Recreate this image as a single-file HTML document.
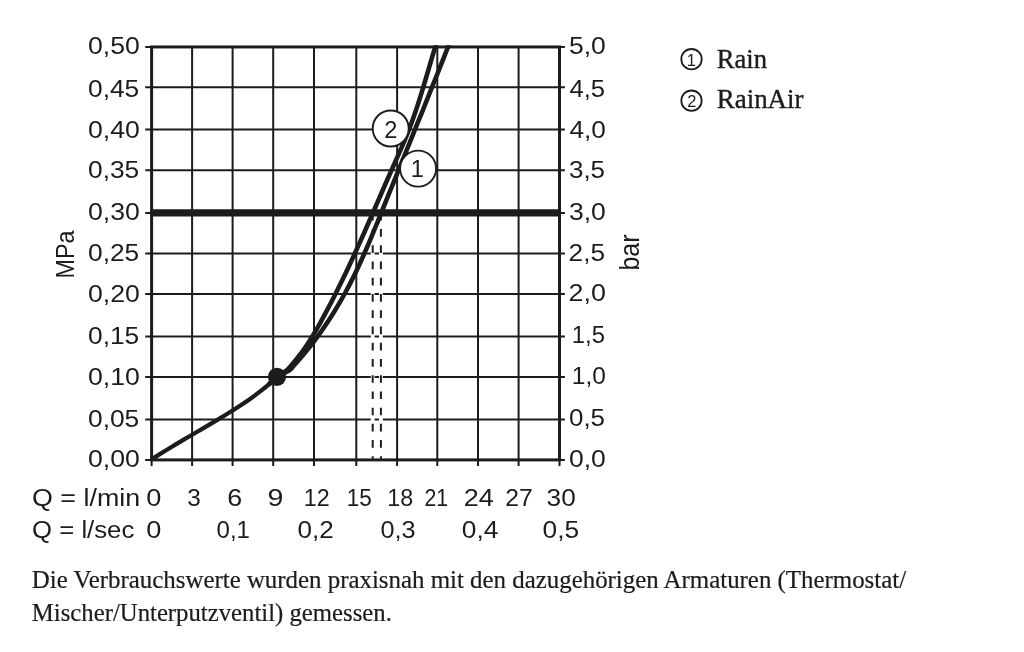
<!DOCTYPE html>
<html lang="de"><head><meta charset="utf-8"><title>Durchflussdiagramm</title>
<style>
html,body{margin:0;padding:0;background:#fff;}
body{width:1024px;height:652px;overflow:hidden;position:relative;}
svg{position:absolute;left:0;top:0;display:block;}
.sans text{font-family:"Liberation Sans", sans-serif;fill:#1c1c1c;}
.serif text{font-family:"Liberation Serif", serif;fill:#1c1c1c;}
</style></head><body>
<svg width="1024" height="652" viewBox="0 0 1024 652">
<rect width="1024" height="652" fill="#fff"/>
<defs><clipPath id="clipc"><rect x="140" y="45.2" width="440" height="430"/></clipPath></defs>

<g stroke="#1c1c1c" stroke-width="2" fill="none">
<line x1="192.1" y1="46.95" x2="192.1" y2="466.10"/>
<line x1="232.6" y1="46.95" x2="232.6" y2="466.10"/>
<line x1="273.2" y1="46.95" x2="273.2" y2="466.10"/>
<line x1="314.0" y1="46.95" x2="314.0" y2="466.10"/>
<line x1="356.3" y1="46.95" x2="356.3" y2="466.10"/>
<line x1="397.1" y1="46.95" x2="397.1" y2="466.10"/>
<line x1="437.3" y1="46.95" x2="437.3" y2="466.10"/>
<line x1="478.0" y1="46.95" x2="478.0" y2="466.10"/>
<line x1="518.6" y1="46.95" x2="518.6" y2="466.10"/>
<line x1="145.2" y1="87.35" x2="564.9" y2="87.35"/>
<line x1="145.2" y1="129.50" x2="564.9" y2="129.50"/>
<line x1="145.2" y1="170.30" x2="564.9" y2="170.30"/>
<line x1="145.2" y1="212.95" x2="564.9" y2="212.95"/>
<line x1="145.2" y1="253.45" x2="564.9" y2="253.45"/>
<line x1="145.2" y1="294.10" x2="564.9" y2="294.10"/>
<line x1="145.2" y1="336.60" x2="564.9" y2="336.60"/>
<line x1="145.2" y1="377.00" x2="564.9" y2="377.00"/>
<line x1="145.2" y1="419.40" x2="564.9" y2="419.40"/>
<line x1="145.2" y1="46.95" x2="564.9" y2="46.95"/>
<line x1="145.2" y1="459.9" x2="564.9" y2="459.9"/>
<line x1="151.6" y1="459.9" x2="151.6" y2="466.10"/>
<line x1="559.5" y1="459.9" x2="559.5" y2="466.10"/>
</g>
<rect x="151.6" y="46.95" width="407.90" height="412.95" fill="none" stroke="#1c1c1c" stroke-width="3"/>
<line x1="372.7" y1="217" x2="372.7" y2="458.3" stroke="#fff" stroke-width="3.8"/>
<line x1="380.9" y1="217" x2="380.9" y2="458.3" stroke="#fff" stroke-width="3.8"/>
<line x1="372.7" y1="212.87" x2="372.7" y2="459.9" stroke="#1c1c1c" stroke-width="2" stroke-dasharray="7.7 8.53"/>
<line x1="380.9" y1="212.87" x2="380.9" y2="459.9" stroke="#1c1c1c" stroke-width="2" stroke-dasharray="7.7 8.53"/>
<line x1="150.1" y1="212.95" x2="561.05" y2="212.95" stroke="#1c1c1c" stroke-width="7.3"/>
<path d="M151.00,459.70 C152.40,458.81 156.60,456.15 159.40,454.41 C162.20,452.67 165.00,450.96 167.80,449.25 C170.60,447.55 173.40,445.87 176.20,444.19 C179.00,442.51 181.80,440.85 184.60,439.20 C187.40,437.54 190.20,435.89 193.00,434.24 C195.80,432.59 198.60,430.95 201.40,429.30 C204.20,427.65 207.00,426.00 209.80,424.33 C212.60,422.67 215.40,421.01 218.20,419.32 C221.00,417.64 223.80,415.95 226.60,414.23 C229.40,412.50 232.20,410.77 235.00,408.97 C237.80,407.18 240.60,405.36 243.40,403.48 C246.20,401.59 249.00,399.66 251.80,397.65 C254.60,395.64 257.40,393.58 260.20,391.42 C263.00,389.26 265.80,387.04 268.60,384.70 C271.40,382.36 275.60,378.62 277.00,377.40" fill="none" stroke="#1c1c1c" stroke-width="4.3" stroke-linejoin="round" clip-path="url(#clipc)"/>
<path d="M268.60,384.70 C270.01,383.40 274.00,379.35 277.07,376.90 C280.14,374.45 284.61,371.98 287.02,370.00 C289.44,368.02 290.12,366.67 291.59,365.00 C293.06,363.33 294.46,361.67 295.83,360.00 C297.19,358.33 298.50,356.67 299.77,355.00 C301.04,353.33 302.26,351.67 303.45,350.00 C304.64,348.33 305.78,346.67 306.90,345.00 C308.02,343.33 308.80,342.17 310.15,340.00 C311.50,337.83 313.27,334.99 315.02,332.00 C316.77,329.01 318.81,325.38 320.65,322.07 C322.49,318.76 324.27,315.45 326.04,312.14 C327.81,308.83 329.55,305.52 331.26,302.21 C332.97,298.90 334.66,295.59 336.32,292.28 C337.98,288.97 339.62,285.66 341.23,282.34 C342.85,279.03 344.44,275.72 346.02,272.41 C347.60,269.10 349.15,265.79 350.69,262.48 C352.23,259.17 353.76,255.86 355.27,252.55 C356.78,249.24 358.27,245.93 359.76,242.62 C361.24,239.31 362.72,236.00 364.18,232.69 C365.65,229.38 367.11,226.07 368.56,222.76 C370.01,219.45 371.45,216.14 372.89,212.83 C374.34,209.52 375.77,206.21 377.21,202.90 C378.65,199.59 380.08,196.28 381.53,192.97 C382.97,189.66 384.41,186.34 385.86,183.03 C387.31,179.72 388.76,176.41 390.23,173.10 C391.69,169.79 393.17,166.48 394.64,163.17 C396.12,159.86 397.60,156.55 399.06,153.24 C400.51,149.93 401.97,146.62 403.37,143.31 C404.78,140.00 406.16,136.69 407.49,133.38 C408.81,130.07 410.09,126.76 411.32,123.45 C412.55,120.14 413.72,116.83 414.87,113.52 C416.01,110.21 417.10,106.90 418.17,103.59 C419.25,100.28 420.28,96.97 421.30,93.66 C422.32,90.34 423.31,87.03 424.30,83.72 C425.29,80.41 426.26,77.10 427.23,73.79 C428.21,70.48 429.17,67.17 430.15,63.86 C431.13,60.55 432.10,57.24 433.10,53.93 C434.10,50.62 435.64,45.66 436.15,44.00" fill="none" stroke="#1c1c1c" stroke-width="4.6" stroke-linejoin="round" clip-path="url(#clipc)"/>
<path d="M268.60,384.70 C270.01,383.40 273.54,379.35 277.07,376.90 C280.60,374.45 286.88,371.98 289.75,370.00 C292.63,368.02 292.84,366.67 294.34,365.00 C295.85,363.33 297.32,361.67 298.77,360.00 C300.22,358.33 301.64,356.67 303.04,355.00 C304.44,353.33 305.81,351.67 307.16,350.00 C308.51,348.33 309.83,346.67 311.13,345.00 C312.43,343.33 313.35,342.17 314.97,340.00 C316.58,337.83 318.71,334.99 320.82,332.00 C322.93,329.01 325.44,325.38 327.63,322.07 C329.83,318.76 331.94,315.45 333.99,312.14 C336.04,308.83 338.01,305.52 339.92,302.21 C341.84,298.90 343.69,295.59 345.48,292.28 C347.28,288.97 349.01,285.66 350.70,282.34 C352.39,279.03 354.03,275.72 355.63,272.41 C357.23,269.10 358.78,265.79 360.30,262.48 C361.82,259.17 363.30,255.86 364.76,252.55 C366.21,249.24 367.64,245.93 369.04,242.62 C370.45,239.31 371.83,236.00 373.20,232.69 C374.57,229.38 375.91,226.07 377.26,222.76 C378.61,219.45 379.94,216.14 381.28,212.83 C382.61,209.52 383.95,206.21 385.28,202.90 C386.62,199.59 387.96,196.28 389.29,192.97 C390.63,189.66 391.97,186.34 393.31,183.03 C394.65,179.72 395.99,176.41 397.34,173.10 C398.68,169.79 400.02,166.48 401.36,163.17 C402.70,159.86 404.04,156.55 405.38,153.24 C406.73,149.93 408.07,146.62 409.41,143.31 C410.75,140.00 412.09,136.69 413.43,133.38 C414.77,130.07 416.11,126.76 417.44,123.45 C418.78,120.14 420.12,116.83 421.45,113.52 C422.79,110.21 424.12,106.90 425.45,103.59 C426.78,100.28 428.11,96.97 429.44,93.66 C430.77,90.34 432.10,87.03 433.42,83.72 C434.74,80.41 436.07,77.10 437.39,73.79 C438.70,70.48 440.02,67.17 441.34,63.86 C442.65,60.55 443.96,57.24 445.27,53.93 C446.58,50.62 448.53,45.66 449.18,44.00" fill="none" stroke="#1c1c1c" stroke-width="4.6" stroke-linejoin="round" clip-path="url(#clipc)"/>
<circle cx="277" cy="376.8" r="9.1" fill="#1c1c1c"/>
<circle cx="390.7" cy="128.5" r="18.0" fill="#fff" stroke="#1c1c1c" stroke-width="1.9"/>
<circle cx="418.1" cy="168.6" r="18.0" fill="#fff" stroke="#1c1c1c" stroke-width="1.9"/>
<g class="sans" font-size="23.6" text-anchor="middle"><text x="390.7" y="137.5">2</text><text x="417.4" y="177.4">1</text></g>
<g class="sans">
<text transform="translate(87.97,54.17) scale(1.0828,1)" font-size="24.63">0,50</text>
<text transform="translate(568.97,54.17) scale(1.0776,1)" font-size="24.63">5,0</text>
<text transform="translate(87.98,97.12) scale(1.0701,1)" font-size="24.63">0,45</text>
<text transform="translate(569.40,97.12) scale(1.0411,1)" font-size="24.63">4,5</text>
<text transform="translate(87.97,137.87) scale(1.0828,1)" font-size="24.63">0,40</text>
<text transform="translate(569.39,137.57) scale(1.0651,1)" font-size="24.63">4,0</text>
<text transform="translate(87.98,178.27) scale(1.0701,1)" font-size="24.63">0,35</text>
<text transform="translate(568.99,177.67) scale(1.0534,1)" font-size="24.63">3,5</text>
<text transform="translate(87.97,220.47) scale(1.0828,1)" font-size="24.63">0,30</text>
<text transform="translate(568.97,220.27) scale(1.0776,1)" font-size="24.63">3,0</text>
<text transform="translate(87.98,260.77) scale(1.0701,1)" font-size="24.63">0,25</text>
<text transform="translate(568.57,260.77) scale(1.0660,1)" font-size="24.63">2,5</text>
<text transform="translate(87.97,301.57) scale(1.0828,1)" font-size="24.63">0,20</text>
<text transform="translate(568.54,301.27) scale(1.0904,1)" font-size="24.63">2,0</text>
<text transform="translate(87.98,343.67) scale(1.0701,1)" font-size="24.63">0,15</text>
<text transform="translate(571.81,343.07) scale(0.9686,1)" font-size="24.63">1,5</text>
<text transform="translate(87.97,384.77) scale(1.0828,1)" font-size="24.63">0,10</text>
<text transform="translate(571.77,384.07) scale(0.9944,1)" font-size="24.63">1,0</text>
<text transform="translate(87.98,426.77) scale(1.0701,1)" font-size="24.63">0,05</text>
<text transform="translate(568.99,426.37) scale(1.0534,1)" font-size="24.63">0,5</text>
<text transform="translate(87.97,467.17) scale(1.0828,1)" font-size="24.63">0,00</text>
<text transform="translate(568.97,466.87) scale(1.0776,1)" font-size="24.63">0,0</text>
<text transform="translate(146.15,505.92) scale(1.1045,1)" font-size="24.63">0</text>
<text transform="translate(187.24,505.92) scale(0.9892,1)" font-size="24.63">3</text>
<text transform="translate(227.34,505.92) scale(1.0915,1)" font-size="24.63">6</text>
<text transform="translate(267.56,505.92) scale(1.1608,1)" font-size="24.63">9</text>
<text transform="translate(303.74,505.92) scale(0.9455,1)" font-size="24.63">12</text>
<text transform="translate(346.69,505.92) scale(0.9133,1)" font-size="24.63">15</text>
<text transform="translate(387.24,505.92) scale(0.9455,1)" font-size="24.63">18</text>
<text transform="translate(424.50,505.92) scale(0.8637,1)" font-size="24.63">21</text>
<text transform="translate(463.63,505.92) scale(1.0966,1)" font-size="24.63">24</text>
<text transform="translate(505.24,505.92) scale(1.0024,1)" font-size="24.63">27</text>
<text transform="translate(546.58,505.92) scale(1.0650,1)" font-size="24.63">30</text>
<text transform="translate(146.15,538.12) scale(1.1045,1)" font-size="24.63">0</text>
<text transform="translate(216.55,538.12) scale(0.9764,1)" font-size="24.63">0,1</text>
<text transform="translate(297.38,538.12) scale(1.0596,1)" font-size="24.63">0,2</text>
<text transform="translate(380.41,538.12) scale(1.0257,1)" font-size="24.63">0,3</text>
<text transform="translate(461.78,538.12) scale(1.0685,1)" font-size="24.63">0,4</text>
<text transform="translate(542.58,538.12) scale(1.0688,1)" font-size="24.63">0,5</text>
<text transform="translate(32.04,505.92) scale(1.0892,1)" font-size="24.63">Q = l/min</text>
<text transform="translate(32.09,538.12) scale(1.0445,1)" font-size="24.63">Q = l/sec</text>
<text transform="translate(74.3,278.4) rotate(-90)" font-size="25.2" textLength="48" lengthAdjust="spacingAndGlyphs">MPa</text>
<text transform="translate(638.5,270.5) rotate(-90)" font-size="27.5" textLength="36" lengthAdjust="spacingAndGlyphs">bar</text>
</g>
<circle cx="691.5" cy="59.2" r="10.2" fill="#fff" stroke="#1c1c1c" stroke-width="1.8"/>
<circle cx="691.5" cy="100.7" r="10.2" fill="#fff" stroke="#1c1c1c" stroke-width="1.8"/>
<g class="sans" font-size="16.4" text-anchor="middle"><text x="691.3" y="65.6">1</text><text x="691.8" y="107.0">2</text></g>
<g class="serif" font-size="26.8" stroke="#1c1c1c" stroke-width="0.35"><text x="716.7" y="67.5" textLength="50.3" lengthAdjust="spacingAndGlyphs">Rain</text><text x="716.7" y="108.1" textLength="86.9" lengthAdjust="spacingAndGlyphs">RainAir</text></g>
<g class="serif" font-size="24.8" stroke="#1c1c1c" stroke-width="0.22"><text x="31.8" y="587.7" textLength="874.3" lengthAdjust="spacingAndGlyphs">Die Verbrauchswerte wurden praxisnah mit den dazugehörigen Armaturen (Thermostat/</text><text x="31.8" y="620.5" textLength="360.1" lengthAdjust="spacingAndGlyphs">Mischer/Unterputzventil) gemessen.</text></g>
</svg></body></html>
